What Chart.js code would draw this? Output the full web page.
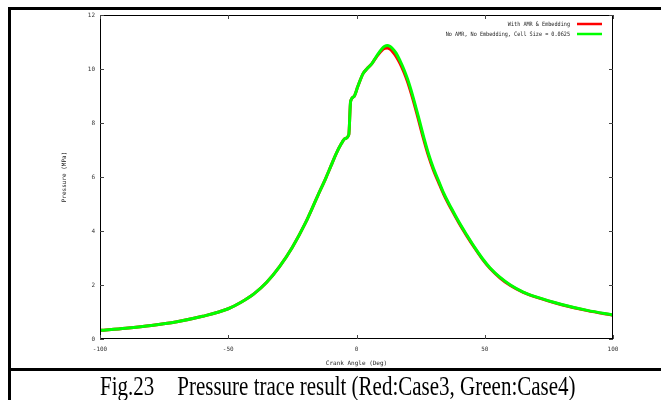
<!DOCTYPE html>
<html>
<head>
<meta charset="utf-8">
<script src="https://cdn.jsdelivr.net/npm/chart.js@4.4.0/dist/chart.umd.min.js"></script>
<style>
  html, body { margin: 0; padding: 0; background: #fff; }
  #wrap { position: relative; width: 661px; height: 400px; overflow: hidden; }
  #c { position: absolute; left: 0; top: 0; }
  .frame-top { position: absolute; left: 8px; top: 7px; width: 660px; height: 3px; background: #000; }
  .frame-left { position: absolute; left: 8px; top: 7px; width: 3px; height: 400px; background: #000; }
  .frame-sep { position: absolute; left: 8px; top: 368px; width: 660px; height: 3px; background: #000; }
  .caption {
    position: absolute; left: 100px; top: 373px; white-space: nowrap;
    font-family: "Liberation Serif", "Times New Roman", serif; font-size: 21px; line-height: 21px;
    color: #000; transform: scaleY(1.3); transform-origin: 0 0;
  }
  .caption .gap { display: inline-block; width: 23px; }
</style>
</head>
<body>
<div id="wrap">
  <canvas id="c" width="661" height="368"></canvas>
  <div class="frame-top"></div>
  <div class="frame-left"></div>
  <div class="frame-sep"></div>
  <div class="caption">Fig.23<span class="gap"></span>Pressure trace result (Red:Case3, Green:Case4)</div>
</div>
<script>
// Pressure trace, two runs
var crankAngle = [-100, -90, -80, -70, -60, -50, -45, -40, -35, -30, -25, -20, -15, -12, -10, -8, -6, -4.5, -3,
  -2.3, -1, 0.5, 2.5, 4, 6, 8, 10, 11, 12, 13, 14, 15.5, 17, 18.5, 20, 22, 24, 26, 28, 30, 32, 34, 37, 40, 43, 46, 49, 52,
  56, 60, 65, 70, 80, 90, 100];

// Case3: With AMR & Embedding (red)
var pressureCase3 = [0.32, 0.40, 0.50, 0.64, 0.84, 1.12, 1.36, 1.67, 2.10, 2.68, 3.40, 4.28, 5.33, 5.95, 6.40, 6.85, 7.22, 7.42, 7.57,
  8.80, 8.98, 9.35, 9.82, 10.00, 10.20, 10.48, 10.70, 10.76, 10.78, 10.74, 10.65, 10.46, 10.20, 9.88, 9.50, 8.88, 8.18, 7.46, 6.80, 6.25, 5.80, 5.36, 4.80, 4.29, 3.82, 3.38, 2.97, 2.62,
  2.26, 1.98, 1.73, 1.55, 1.27, 1.05, 0.88];

// Case4: No AMR, no embedding (green)
var pressureCase4 = [0.32, 0.40, 0.50, 0.64, 0.84, 1.12, 1.36, 1.67, 2.10, 2.68, 3.40, 4.28, 5.33, 5.95, 6.40, 6.85, 7.22, 7.42, 7.57,
  8.80, 8.98, 9.35, 9.82, 10.00, 10.20, 10.50, 10.76, 10.84, 10.87, 10.84, 10.76, 10.58, 10.30, 9.98, 9.60, 8.98, 8.28, 7.55, 6.88, 6.32, 5.86, 5.40, 4.84, 4.32, 3.85, 3.40, 2.99, 2.64,
  2.28, 2.00, 1.74, 1.56, 1.28, 1.06, 0.89];

var seriesLabels = ['With AMR & Embedding', 'No AMR, No Embedding, Cell Size = 0.0625'];
var seriesColors = ['#ff0000', '#00ff00'];

var xTicks = [-100, -50, 0, 50, 100];
var yTicks = [0, 2, 4, 6, 8, 10, 12];

var tickFont = { family: 'DejaVu Sans Mono', size: 6 };

function toPoints(ys) {
  return crankAngle.map(function (x, i) { return { x: x, y: ys[i] }; });
}

// gnuplot-ish frame: full border, inward mirrored ticks, key in the top right
var gnuplotFrame = {
  id: 'gnuplotFrame',
  afterDatasetsDraw: function (chart) {
    var ctx = chart.ctx;
    var a = chart.chartArea;
    var sx = chart.scales.x, sy = chart.scales.y;
    var tl = 4;
    ctx.save();
    ctx.strokeStyle = '#000';
    ctx.lineWidth = 1;
    ctx.strokeRect(a.left + 0.5, a.top + 0.5, a.right - a.left - 1, a.bottom - a.top - 1);
    ctx.strokeStyle = '#444';
    ctx.beginPath();
    sx.ticks.forEach(function (t) {
      var px = Math.round(sx.getPixelForValue(t.value)) + 0.5;
      ctx.moveTo(px, a.bottom); ctx.lineTo(px, a.bottom - tl);
      ctx.moveTo(px, a.top); ctx.lineTo(px, a.top + tl);
    });
    sy.ticks.forEach(function (t) {
      var py = Math.round(sy.getPixelForValue(t.value)) + 0.5;
      ctx.moveTo(a.left, py); ctx.lineTo(a.left + tl, py);
      ctx.moveTo(a.right, py); ctx.lineTo(a.right - tl, py);
    });
    ctx.stroke();

    // key (text squeezed a little, like the bitmap font of the original)
    chart.data.datasets.forEach(function (ds, i) {
      var y = a.top + 9 + i * 10;
      var textRight = a.right - 43;
      ctx.save();
      ctx.translate(textRight, y);
      ctx.scale(0.86, 1);
      ctx.font = '6px "DejaVu Sans Mono"';
      ctx.fillStyle = '#222';
      ctx.textAlign = 'right';
      ctx.textBaseline = 'middle';
      ctx.fillText(ds.label, 0, 0);
      ctx.restore();
      ctx.strokeStyle = ds.borderColor;
      ctx.lineWidth = 2.5;
      ctx.beginPath();
      ctx.moveTo(a.right - 36, y);
      ctx.lineTo(a.right - 11, y);
      ctx.stroke();
    });
    ctx.restore();
  }
};

var chart = new Chart(document.getElementById('c').getContext('2d'), {
  type: 'line',
  data: {
    datasets: [
      { label: seriesLabels[0], data: toPoints(pressureCase3), borderColor: seriesColors[0], order: 1 },
      { label: seriesLabels[1], data: toPoints(pressureCase4), borderColor: seriesColors[1], order: 0 }
    ]
  },
  options: {
    responsive: false,
    animation: false,
    layout: { padding: { left: 0, top: 15, right: 48, bottom: 0 } },
    elements: {
      point: { radius: 0 },
      line: { borderWidth: 3, fill: false, cubicInterpolationMode: 'monotone' }
    },
    plugins: { legend: { display: false }, tooltip: { enabled: false } },
    scales: {
      x: {
        type: 'linear', min: -100, max: 100,
        afterBuildTicks: function (s) { s.ticks = xTicks.map(function (v) { return { value: v }; }); },
        afterFit: function (s) { s.height = 29; },
        grid: { display: false, drawTicks: false },
        border: { display: false },
        ticks: { font: tickFont, color: '#333', padding: 7, maxRotation: 0 },
        title: { display: true, text: 'Crank Angle (Deg)', font: tickFont, color: '#222', padding: { top: 0, bottom: 1 } }
      },
      y: {
        type: 'linear', min: 0, max: 12,
        afterBuildTicks: function (s) { s.ticks = yTicks.map(function (v) { return { value: v }; }); },
        afterFit: function (s) { s.width = 100; },
        grid: { display: false, drawTicks: false },
        border: { display: false },
        ticks: { font: tickFont, color: '#333', padding: 5 },
        title: { display: true, text: 'Pressure (MPa)', font: tickFont, color: '#222', padding: { top: 61, bottom: 0 } }
      }
    }
  },
  plugins: [gnuplotFrame]
});
</script>
</body>
</html>
